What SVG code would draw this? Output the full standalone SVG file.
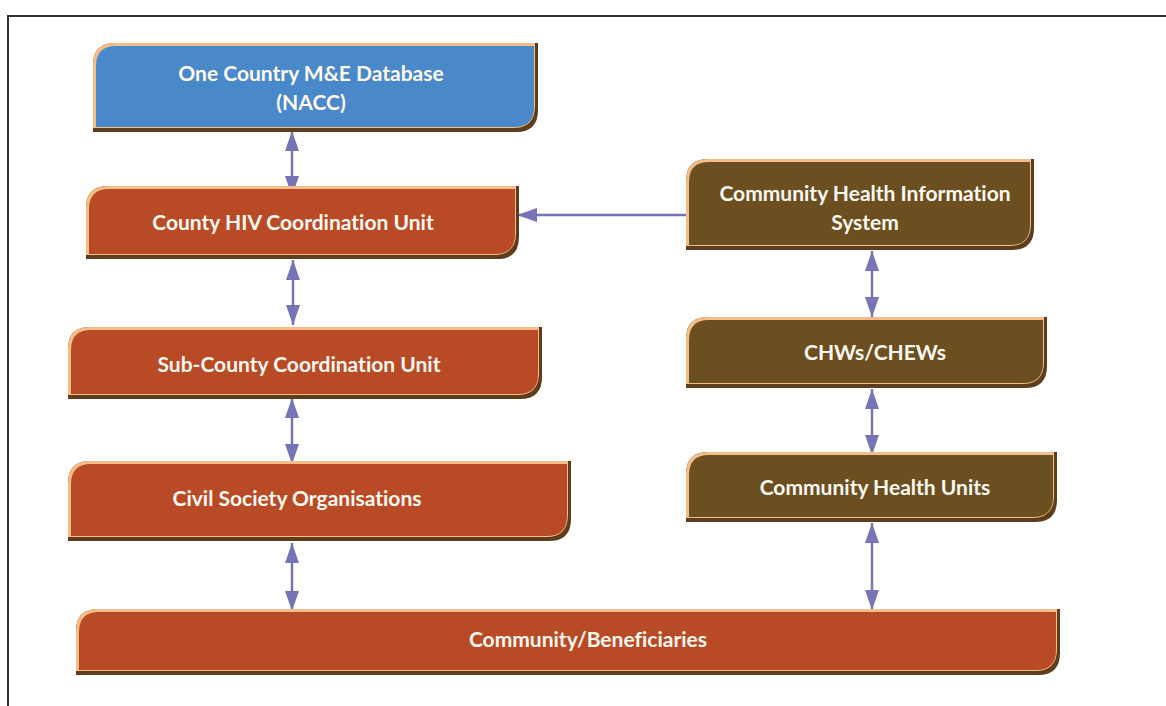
<svg xmlns="http://www.w3.org/2000/svg" width="1166" height="706" viewBox="0 0 1166 706">
<defs>
<style>
.sh{fill:#5e3d1d}
.hl{fill:#f5bd88}
.blue{fill:#4a89c9}
.red{fill:#b94a26}
.brown{fill:#6b4f21}
.t{font-family:Lato,"Open Sans","DejaVu Sans",sans-serif;font-weight:bold;font-size:21px;fill:#fdf8f0;text-anchor:middle;font-variant-ligatures:none}
.c{stroke:#7474b6;stroke-width:2.5;fill:none}
.d{marker-start:url(#ah);marker-end:url(#ah)}
</style>
<marker id="ah" viewBox="0 0 20 14" refX="20" refY="7" markerWidth="20" markerHeight="14" markerUnits="userSpaceOnUse" orient="auto-start-reverse">
<path d="M0,0 L20,7 L0,14 Z" fill="#7474b6"/>
</marker>
</defs>
<rect width="1166" height="706" fill="#ffffff"/>
<path d="M8,706 V16 H1166" fill="none" stroke="#333333" stroke-width="2"/>

<g id="connectors">
<line class="c d" x1="292" y1="131" x2="292" y2="196"/>
<line class="c d" x1="293" y1="260" x2="293" y2="325"/>
<line class="c d" x1="292" y1="398" x2="292" y2="464"/>
<line class="c d" x1="292" y1="543" x2="292" y2="611"/>
<line class="c d" x1="872" y1="251" x2="872" y2="317"/>
<line class="c d" x1="872" y1="389" x2="872" y2="455"/>
<line class="c d" x1="872" y1="523" x2="872" y2="610"/>
<line class="c" x1="686" y1="215" x2="517" y2="215" marker-end="url(#ah)"/>
</g>

<g id="node-nacc">
<path class="sh" d="M93,132 V65 Q93,43 115,43 H538 V110 Q538,132 516,132 Z"/>
<path class="hl" d="M93,128 V65 Q93,43 115,43 H535 V106 Q535,128 513,128 Z"/>
<path class="blue" d="M96,127 V66 Q96,46 116,46 H534 V107 Q534,127 514,127 Z"/>
<text class="t" x="311" y="81">One Country M&amp;E Database</text>
<text class="t" x="311" y="110">(NACC)</text>
</g>

<g id="node-county">
<path class="sh" d="M86,259 V208 Q86,186 108,186 H519 V237 Q519,259 497,259 Z"/>
<path class="hl" d="M86,255 V208 Q86,186 108,186 H516 V233 Q516,255 494,255 Z"/>
<path class="red" d="M89,254 V209 Q89,189 109,189 H515 V234 Q515,254 495,254 Z"/>
<text class="t" x="293" y="230">County HIV Coordination Unit</text>
</g>

<g id="node-subcounty">
<path class="sh" d="M68,399 V349 Q68,327 90,327 H542 V377 Q542,399 520,399 Z"/>
<path class="hl" d="M68,395 V349 Q68,327 90,327 H539 V373 Q539,395 517,395 Z"/>
<path class="red" d="M71,394 V350 Q71,330 91,330 H538 V374 Q538,394 518,394 Z"/>
<text class="t" x="299" y="372">Sub-County Coordination Unit</text>
</g>

<g id="node-cso">
<path class="sh" d="M68,541 V483 Q68,461 90,461 H571 V519 Q571,541 549,541 Z"/>
<path class="hl" d="M68,537 V483 Q68,461 90,461 H568 V515 Q568,537 546,537 Z"/>
<path class="red" d="M71,536 V484 Q71,464 91,464 H567 V516 Q567,536 547,536 Z"/>
<text class="t" x="297" y="506">Civil Society Organisations</text>
</g>

<g id="node-community">
<path class="sh" d="M76,675 V631 Q76,609 98,609 H1060 V653 Q1060,675 1038,675 Z"/>
<path class="hl" d="M76,671 V631 Q76,609 98,609 H1057 V649 Q1057,671 1035,671 Z"/>
<path class="red" d="M79,670 V632 Q79,612 99,612 H1056 V650 Q1056,670 1036,670 Z"/>
<text class="t" x="588" y="647">Community/Beneficiaries</text>
</g>

<g id="node-chis">
<path class="sh" d="M686,250 V181 Q686,159 708,159 H1034 V228 Q1034,250 1012,250 Z"/>
<path class="hl" d="M686,246 V181 Q686,159 708,159 H1031 V224 Q1031,246 1009,246 Z"/>
<path class="brown" d="M689,245 V182 Q689,162 709,162 H1030 V225 Q1030,245 1010,245 Z"/>
<text class="t" x="865" y="201">Community Health Information</text>
<text class="t" x="865" y="230">System</text>
</g>

<g id="node-chws">
<path class="sh" d="M686,388 V339 Q686,317 708,317 H1047 V366 Q1047,388 1025,388 Z"/>
<path class="hl" d="M686,384 V339 Q686,317 708,317 H1044 V362 Q1044,384 1022,384 Z"/>
<path class="brown" d="M689,383 V340 Q689,320 709,320 H1043 V363 Q1043,383 1023,383 Z"/>
<text class="t" x="875" y="360">CHWs/CHEWs</text>
</g>

<g id="node-chu">
<path class="sh" d="M686,522 V474 Q686,452 708,452 H1057 V500 Q1057,522 1035,522 Z"/>
<path class="hl" d="M686,518 V474 Q686,452 708,452 H1054 V496 Q1054,518 1032,518 Z"/>
<path class="brown" d="M689,517 V475 Q689,455 709,455 H1053 V497 Q1053,517 1033,517 Z"/>
<text class="t" x="875" y="495">Community Health Units</text>
</g>
</svg>
